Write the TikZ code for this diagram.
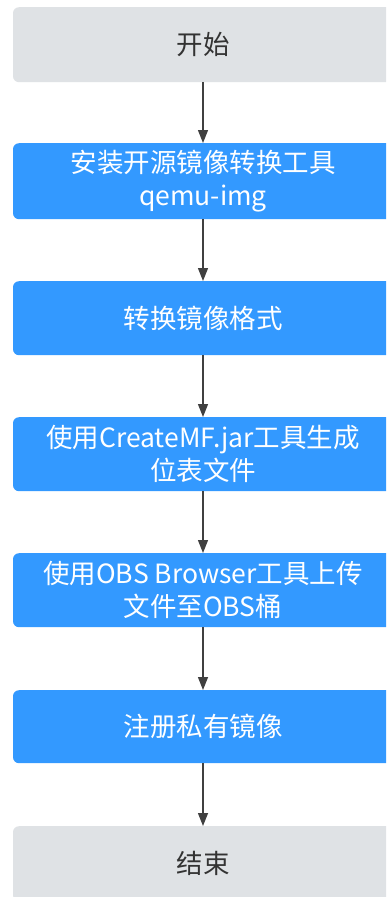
\documentclass[tikz,border=0pt]{standalone}
\usepackage{fontspec}
\setmainfont{Noto Sans CJK SC}
\usetikzlibrary{arrows.meta}
\definecolor{boxgray}{HTML}{DFE2E5}
\definecolor{boxblue}{HTML}{3399FF}
\definecolor{txtgray}{HTML}{333333}
\definecolor{arrowc}{HTML}{404040}
\tikzset{
  base/.style={rectangle, rounded corners=6pt, minimum width=380pt, inner sep=0pt, align=center,
    font=\fontsize{26.5}{33}\selectfont, anchor=north},
  termbox/.style={base, fill=boxgray, text=txtgray},
  stepbox/.style={base, fill=boxblue, text=white},
  conn/.style={draw=arrowc, line width=1.4pt, -{Triangle[length=13pt,width=10pt]}}
}
\begin{document}
\begin{tikzpicture}[x=1pt,y=1pt]
\useasboundingbox (0,0) rectangle (386,-897);
\clip (0,0) rectangle (386,-897);
\fill[white] (0,0) rectangle (386,-897);
\node[termbox, minimum height=75pt] (n1) at (203,-7) {开始};
\node[stepbox, minimum height=76pt] (n2) at (203,-143) {安装开源镜像转换工具\\qemu-img};
\node[stepbox, minimum height=74pt] (n3) at (203,-281) {转换镜像格式};
\node[stepbox, minimum height=74pt] (n4) at (203,-417) {使用CreateMF.jar工具生成\\位表文件};
\node[stepbox, minimum height=74pt] (n5) at (203,-553) {使用OBS Browser工具上传\\文件至OBS桶};
\node[stepbox, minimum height=73pt] (n6) at (203,-690) {注册私有镜像};
\node[termbox, minimum height=75pt] (n7) at (203,-826) {结束};
\draw[conn] (n1.south) -- (n2.north);
\draw[conn] (n2.south) -- (n3.north);
\draw[conn] (n3.south) -- (n4.north);
\draw[conn] (n4.south) -- (n5.north);
\draw[conn] (n5.south) -- (n6.north);
\draw[conn] (n6.south) -- (n7.north);
\end{tikzpicture}
\end{document}
